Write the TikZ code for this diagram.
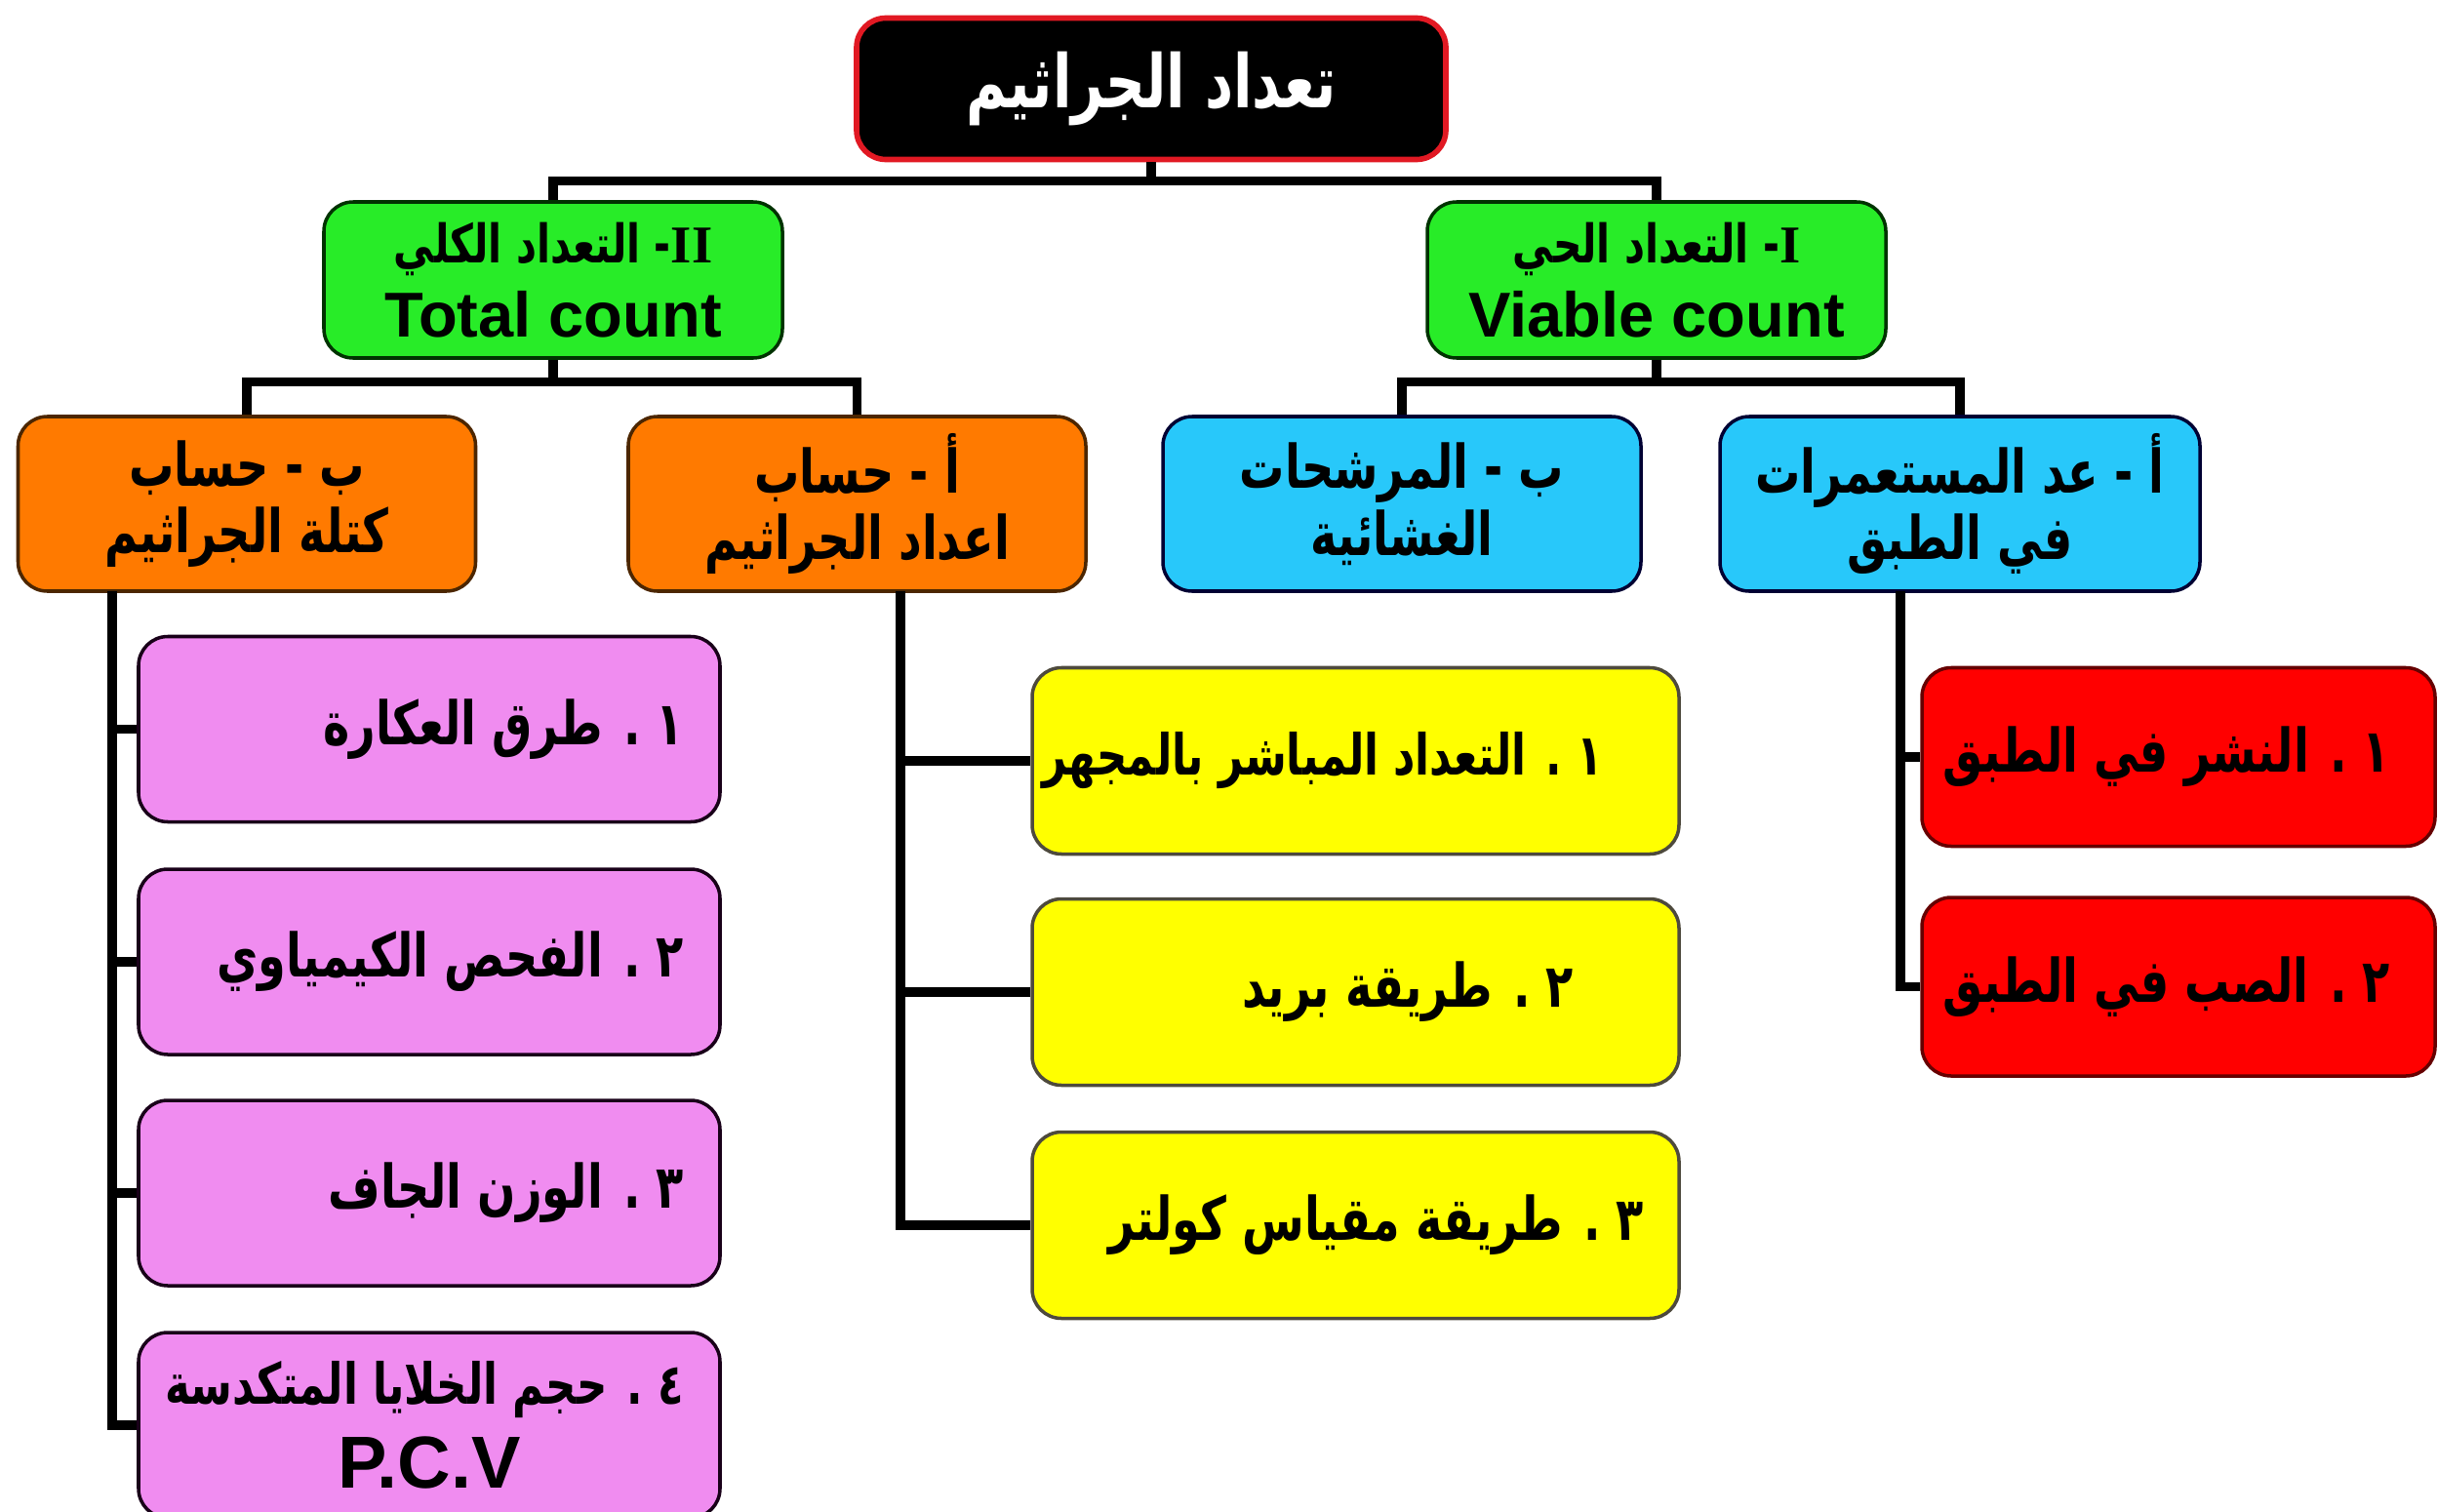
\documentclass[tikz,border=0pt]{standalone}
\usepackage{fontspec}
\setmainfont{Liberation Sans}
\newfontfamily\arabicfont[Script=Arabic,FakeStretch=0.75]{DejaVu Sans}
\newfontfamily\romanfont{Liberation Serif}
\TeXXeTstate=1
\usepackage{xcolor}
\usepackage{tikz}
\usetikzlibrary{positioning}

\definecolor{rootred}{RGB}{225,25,35}
\definecolor{boxgreen}{RGB}{40,236,40}
\definecolor{boxorange}{RGB}{255,122,0}
\definecolor{boxcyan}{RGB}{40,200,250}
\definecolor{boxpink}{RGB}{240,140,240}
\definecolor{boxyellow}{RGB}{255,255,0}
\definecolor{boxred}{RGB}{255,0,0}

\lineskiplimit=-100pt
\newcommand{\arfont}{\arabicfont\bfseries}

\begin{document}
\begin{tikzpicture}[x=1cm,y=1cm,
  box/.style={draw, rounded corners=0.3cm, line width=1pt, inner sep=2pt, align=center, font=\fontsize{17.5}{19.5}\selectfont\bfseries},
  rootbox/.style={box, fill=black, draw=rootred, line width=1.6pt, text=white, minimum width=6.04cm, minimum height=1.45cm, font=\fontsize{21.5}{26}\selectfont\bfseries},
  greenbox/.style={box, fill=boxgreen, draw=black!80!green, minimum width=4.70cm, minimum height=1.60cm, font=\fontsize{18.5}{21.8}\selectfont\bfseries},
  orangebox/.style={box, fill=boxorange, draw=black!70!orange, minimum width=4.69cm, minimum height=1.79cm},
  cyanbox/.style={box, fill=boxcyan, draw=black!80!blue, minimum width=4.92cm, minimum height=1.79cm},
  pinkbox/.style={box, fill=boxpink, draw=black!80!violet, inner xsep=0.37cm, minimum width=5.96cm, minimum height=1.90cm},
  yellowbox/.style={box, fill=boxyellow, draw=black!80!yellow, inner xsep=0.36cm, minimum width=6.63cm, minimum height=1.91cm},
  redbox/.style={box, fill=boxred, draw=black!60!red, inner xsep=0.46cm, minimum width=5.26cm, minimum height=1.83cm},
  link/.style={black, line width=2.6pt}
]
\useasboundingbox (0,0) rectangle (24.99,-15.50);

% top levels
\node[rootbox] (root) at (11.80,-0.91) {{\arfont\beginR تعداد الجراثيم\endR}};
\node[greenbox] (tot) at (5.67,-2.87) {{\fontsize{15.5}{21.8}\selectfont\arfont\beginR\beginL{\romanfont II}\endL- التعداد الكلي\endR}\\ Total count};
\node[greenbox] (via) at (16.98,-2.87) {{\fontsize{15.5}{21.8}\selectfont\arfont\beginR\beginL{\romanfont I}\endL- التعداد الحي\endR}\\ Viable count};
\node[orangebox] (mass) at (2.53,-5.165) {{\arfont\beginR ب - حساب\endR}\\ {\arfont\beginR كتلة الجراثيم\endR}};
\node[orangebox] (cells) at (8.785,-5.165) {{\arfont\beginR أ - حساب\endR}\\ {\arfont\beginR اعداد الجراثيم\endR}};
\node[cyanbox, minimum width=4.90cm] (memb) at (14.37,-5.165) {{\arfont\beginR ب - المرشحات\endR}\\ {\arfont\beginR الغشائية\endR}};
\node[cyanbox] (plate) at (20.09,-5.165) {{\arfont\beginR أ - عد المستعمرات\endR}\\ {\arfont\beginR في الطبق\endR}};

% methods
\node[pinkbox] (turb) at (4.40,-7.475) {\makebox[5.22cm][r]{\arfont\beginR ١ . طرق العكارة\endR}};
\node[pinkbox] (chem) at (4.40,-9.86) {\makebox[5.22cm][r]{\arfont\beginR ٢ . الفحص الكيمياوي\endR}};
\node[pinkbox] (dryw) at (4.40,-12.23) {\makebox[5.22cm][r]{\arfont\beginR ٣ . الوزن الجاف\endR}};
\node[pinkbox, font=\fontsize{16.5}{24.5}\selectfont\bfseries] (pcv) at (4.40,-14.61) {\makebox[5.22cm][r]{\arfont\beginR ٤ . حجم الخلايا المتكدسة\endR}\\ {\fontsize{21.5}{24.5}\selectfont P.C.V}};
\node[yellowbox, font=\fontsize{16.5}{19.5}\selectfont\bfseries] (micro) at (13.895,-7.80) {\makebox[5.91cm][r]{\arfont\beginR ١ . التعداد المباشر بالمجهر\endR\hspace*{0.42cm}}};
\node[yellowbox] (breed) at (13.895,-10.17) {\makebox[5.91cm][r]{\arfont\beginR ٢ . طريقة بريد\endR\hspace*{0.72cm}}};
\node[yellowbox] (coulter) at (13.895,-12.56) {\makebox[5.91cm][r]{\arfont\beginR ٣ . طريقة مقياس كولتر\endR}};
\node[redbox] (spread) at (22.33,-7.76) {\makebox[4.34cm][r]{\arfont\beginR ١ . النشر في الطبق\endR}};
\node[redbox] (pour) at (22.33,-10.115) {\makebox[4.34cm][r]{\arfont\beginR ٢ . الصب في الطبق\endR}};

% connectors
\draw[link] (root.south) -- ++(0,-0.195) -| (tot.north);
\draw[link] (root.south) -- ++(0,-0.195) -| (via.north);
\draw[link] (tot.south) -- ++(0,-0.23) -| (mass.north);
\draw[link] (tot.south) -- ++(0,-0.23) -| (cells.north);
\draw[link] (via.south) -- ++(0,-0.23) -| (memb.north);
\draw[link] (via.south) -- ++(0,-0.23) -| (plate.north);

\coordinate (masstrunk) at (1.15,-6.06);
\coordinate (cellstrunk) at (9.23,-6.06);
\coordinate (platetrunk) at (19.48,-6.06);
\draw[link] (masstrunk) |- (turb.west);
\draw[link] (masstrunk) |- (chem.west);
\draw[link] (masstrunk) |- (dryw.west);
\draw[link] (masstrunk) |- (pcv.west);
\draw[link] (cellstrunk) |- (micro.west);
\draw[link] (cellstrunk) |- (breed.west);
\draw[link] (cellstrunk) |- (coulter.west);
\draw[link] (platetrunk) |- (spread.west);
\draw[link] (platetrunk) |- (pour.west);
\end{tikzpicture}
\end{document}
